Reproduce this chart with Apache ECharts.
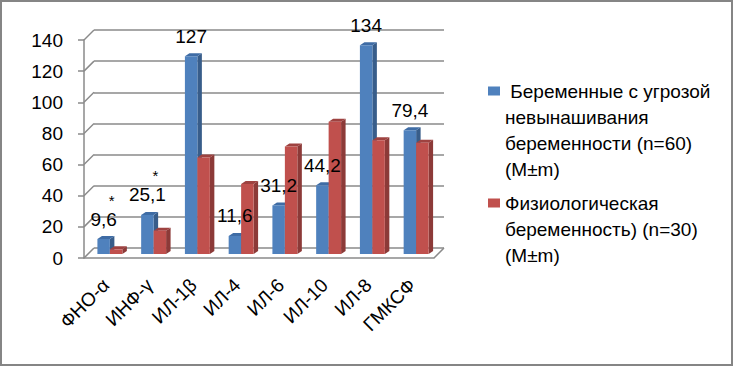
<!DOCTYPE html>
<html><head><meta charset="utf-8">
<script src="https://cdn.jsdelivr.net/npm/echarts@6/dist/echarts.min.js"></script>
<style>html,body{margin:0;padding:0;background:#fff}#c{width:733px;height:366px}</style>
</head><body><div id="c"></div>
<script>
const categories = ['ФНО-α', 'ИНФ-γ', 'ИЛ-1β', 'ИЛ-4', 'ИЛ-6', 'ИЛ-10', 'ИЛ-8', 'ГМКСФ'];
const threatened = [9.6, 25.1, 127, 11.6, 31.2, 44.2, 134, 79.4];
const physiological = [3, 15, 62, 45, 69, 85, 73, 71.5];
const significance = ['*', '*', '', '', '', '', '', ''];
const yTicks = [0, 20, 40, 60, 80, 100, 120, 140];
const seriesNames = [
  ' Беременные с угрозой\nневынашивания\nбеременности (n=60)\n(M±m)',
  'Физиологическая\nбеременность) (n=30)\n(M±m)'
];

const FONT = 'Liberation Sans';
const FS = 19;
const GRID_COLOR = '#8a8a8a';
const BLUE = { front: '#4F81BD', side: '#385D8A', top: '#3F6CA5' };
const RED = { front: '#C0504D', side: '#8C3A38', top: '#9E4240' };

function barGeom(params, api, slot) {
  const idx = api.value(0);
  const v = api.value(1);
  const base = api.coord([idx, 0]);
  const top = api.coord([idx, v]);
  const cw = api.size([1, 0])[0];
  const w = cw * 0.285;
  const x0 = base[0] + (slot === 0 ? -w : 0);
  return { idx, v, x0, x1: x0 + w, w, y0: top[1], y1: base[1] };
}

function bar3d(colors, slot) {
  return function (params, api) {
    const g = barGeom(params, api, slot);
    const dx = 4.5, dy = 3;
    return { type: 'group', children: [
      { type: 'polygon', shape: { points: [[g.x1, g.y0], [g.x1 + dx, g.y0 - dy], [g.x1 + dx, g.y1 - dy], [g.x1, g.y1]] }, style: { fill: colors.side } },
      { type: 'polygon', shape: { points: [[g.x0, g.y0], [g.x0 + dx, g.y0 - dy], [g.x1 + dx, g.y0 - dy], [g.x1, g.y0]] }, style: { fill: colors.top } },
      { type: 'rect', shape: { x: g.x0, y: g.y0, width: g.w, height: g.y1 - g.y0 }, style: { fill: colors.front } }
    ] };
  };
}

function valueLabels(params, api) {
  const g = barGeom(params, api, 0);
  const cx = (g.x0 + g.x1) / 2;
  const children = [
    { type: 'text', x: cx, y: g.y0 - 20, style: { text: String(g.v).replace('.', ','), fill: '#000', font: FS + 'px "' + FONT + '"', align: 'center', verticalAlign: 'middle' } }
  ];
  const mark = significance[g.idx];
  if (mark) {
    children.push({ type: 'text', x: cx + 8, y: g.y0 - 39, style: { text: mark, fill: '#000', font: '15px "' + FONT + '"', align: 'center', verticalAlign: 'middle' } });
  }
  return { type: 'group', children };
}

function iconPath(h) {
  return 'path://M0,0h0.01v0.01h-0.01Z M0,8.5h12v9h-12Z M0,' + (h - 0.01) + 'h0.01v0.01h-0.01Z';
}

const chart = echarts.init(document.getElementById('c'), null, { renderer: 'svg' });
chart.setOption({
  backgroundColor: '#fff',
  animation: false,
  textStyle: { fontFamily: FONT },
  graphic: [{ type: 'rect', shape: { x: 1, y: 1, width: 731, height: 364 }, style: { fill: 'none', stroke: '#858585', lineWidth: 2 }, z: 100 }],
  legend: [
    { data: [seriesNames[0]], left: 488, top: 78, padding: 0, orient: 'vertical', itemWidth: 12, itemHeight: 104, icon: iconPath(104), selectedMode: false,
      textStyle: { fontSize: FS, lineHeight: 26, color: '#000', fontFamily: FONT } },
    { data: [seriesNames[1]], left: 488, top: 190, padding: 0, orient: 'vertical', itemWidth: 12, itemHeight: 78, icon: iconPath(78), selectedMode: false,
      textStyle: { fontSize: FS, lineHeight: 26, color: '#000', fontFamily: FONT } }
  ],
  grid: [
    { left: 94, top: 30, width: 350, height: 218 },
    { left: 84, top: 40, width: 350, height: 218 },
    { left: 88, top: 36, width: 350, height: 218 }
  ],
  xAxis: [
    { gridIndex: 0, type: 'category', data: categories, show: false },
    { gridIndex: 1, type: 'category', data: categories,
      axisLine: { lineStyle: { color: GRID_COLOR, width: 1.5 } },
      axisTick: { length: 6, lineStyle: { color: GRID_COLOR, width: 1.5 } },
      axisLabel: { rotate: 45, margin: 24, fontSize: FS, color: '#000', fontFamily: FONT, interval: 0 } },
    { gridIndex: 2, type: 'category', data: categories, show: false }
  ],
  yAxis: [
    { gridIndex: 0, type: 'value', min: 0, max: 140, interval: 20,
      axisLine: { show: false }, axisTick: { show: false }, axisLabel: { show: false },
      splitLine: { lineStyle: { color: GRID_COLOR, width: 1.5 } } },
    { gridIndex: 1, type: 'value', min: 0, max: 140, interval: 20,
      axisLine: { show: true, lineStyle: { color: GRID_COLOR, width: 1.5 } },
      axisTick: { show: true, length: 6, lineStyle: { color: GRID_COLOR, width: 1.5 } },
      axisLabel: { margin: 21, fontSize: FS, color: '#000', fontFamily: FONT },
      splitLine: { show: false } },
    { gridIndex: 2, type: 'value', min: 0, max: 140, interval: 20, show: false, splitLine: { show: false } }
  ],
  series: [
    { type: 'custom', name: 'wall-edges', xAxisIndex: 1, yAxisIndex: 1, silent: true,
      data: yTicks.map(v => [0, v]),
      renderItem: function (params, api) {
        const y = api.coord([0, api.value(1)])[1];
        const cs = params.coordSys;
        const lines = [{ type: 'line', shape: { x1: cs.x, y1: y, x2: cs.x + 10, y2: y - 10 }, style: { stroke: GRID_COLOR, lineWidth: 1.5 } }];
        if (api.value(1) === 0) {
          lines.push({ type: 'line', shape: { x1: cs.x + cs.width, y1: y, x2: cs.x + cs.width + 10, y2: y - 10 }, style: { stroke: GRID_COLOR, lineWidth: 1.5 } });
        }
        return { type: 'group', children: lines };
      } },
    { type: 'custom', name: seriesNames[0], xAxisIndex: 2, yAxisIndex: 2, itemStyle: { color: BLUE.front },
      encode: { x: 0, y: 1 },
      data: threatened.map((v, i) => [i, v]), renderItem: bar3d(BLUE, 0), z: 3 },
    { type: 'custom', name: seriesNames[1], xAxisIndex: 2, yAxisIndex: 2, itemStyle: { color: RED.front },
      encode: { x: 0, y: 1 },
      data: physiological.map((v, i) => [i, v]), renderItem: bar3d(RED, 1), z: 4 },
    { type: 'custom', name: 'value-labels', xAxisIndex: 2, yAxisIndex: 2, silent: true,
      encode: { x: 0, y: 1 },
      data: threatened.map((v, i) => [i, v]), renderItem: valueLabels, z: 10 }
  ]
});
</script>
</body></html>
